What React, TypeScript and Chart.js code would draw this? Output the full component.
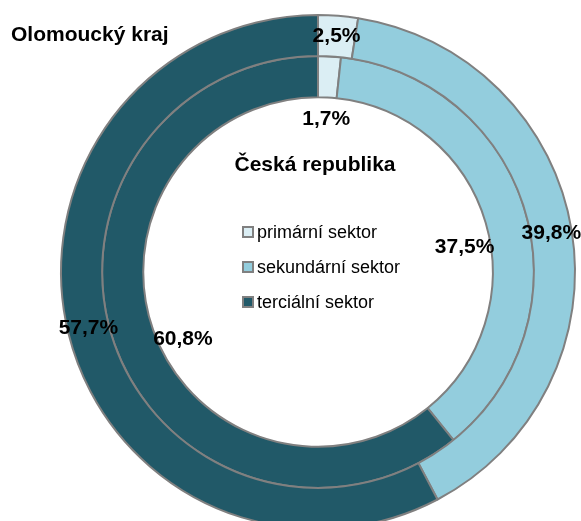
import React, { useEffect, useRef } from 'react';
import { Chart, registerables } from 'chart.js';

Chart.register(...registerables);

const categories = ['primární sektor', 'sekundární sektor', 'terciální sektor'];
const olomouckyKraj = [2.5, 39.8, 57.7];
const ceskaRepublika = [1.7, 37.5, 60.8];
const seriesNames = ['Olomoucký kraj', 'Česká republika'];
const sectorColors = ['#DBEEF4', '#93CDDD', '#215968'];

const FONT = '"Liberation Sans", Arial, sans-serif';

const fmt = (v: number) => v.toFixed(1).replace('.', ',') + '%';

const labelPlugin = {
  id: 'ringLabels',
  afterDatasetsDraw(chart: any, _args: any, opts: any) {
    const ctx = chart.ctx as CanvasRenderingContext2D;
    const nudges = opts.nudges || [];
    ctx.save();
    ctx.fillStyle = '#000';
    ctx.textAlign = 'center';
    ctx.textBaseline = 'middle';
    ctx.font = `bold 21px ${FONT}`;
    chart.data.datasets.forEach((ds: any, di: number) => {
      const meta = chart.getDatasetMeta(di);
      meta.data.forEach((arc: any, i: number) => {
        const p = arc.getProps(['x', 'y', 'startAngle', 'endAngle', 'innerRadius', 'outerRadius'], true);
        const mid = (p.startAngle + p.endAngle) / 2;
        const r = di === 0 ? (p.innerRadius + p.outerRadius) / 2 : p.innerRadius - 22;
        const n = (nudges[di] && nudges[di][i]) || { dx: 0, dy: 0 };
        const x = p.x + Math.cos(mid) * r + n.dx;
        const y = p.y + Math.sin(mid) * r + n.dy;
        ctx.fillText(fmt(ds.data[i]), x, y);
      });
    });

    // titles
    const m0 = chart.getDatasetMeta(0).data[0];
    const cx = m0.x;
    const cy = m0.y;
    ctx.textAlign = 'left';
    ctx.font = `bold 21px ${FONT}`;
    ctx.fillText(chart.data.datasets[0].label, 11, 35);
    ctx.textAlign = 'center';
    ctx.fillText(chart.data.datasets[1].label, cx - 3, cy - 107);

    // legend
    ctx.textAlign = 'left';
    ctx.font = `18px ${FONT}`;
    const lx = cx - 75;
    chart.data.labels.forEach((lab: string, i: number) => {
      const y = cy - 40 + i * 35;
      ctx.fillStyle = chart.data.datasets[0].backgroundColor[i];
      ctx.fillRect(lx, y - 5, 10, 10);
      ctx.strokeStyle = '#808080';
      ctx.lineWidth = 2;
      ctx.strokeRect(lx, y - 5, 10, 10);
      ctx.fillStyle = '#000';
      ctx.fillText(lab, lx + 14, y + 1);
    });
    ctx.restore();
  },
};

export default function App() {
  const ref = useRef<HTMLCanvasElement>(null);
  useEffect(() => {
    document.body.style.overflow = 'hidden';
    const chart = new Chart(ref.current!, {
      type: 'doughnut',
      data: {
        labels: categories,
        datasets: [
          {
            label: seriesNames[0],
            data: olomouckyKraj,
            backgroundColor: sectorColors,
            borderColor: '#808080',
            borderWidth: 2,
            clip: false,
          } as any,
          {
            label: seriesNames[1],
            data: ceskaRepublika,
            backgroundColor: sectorColors,
            borderColor: '#808080',
            borderWidth: 2,
            clip: false,
          } as any,
        ],
      },
      options: {
        responsive: false,
        animation: false,
        radius: 257,
        cutout: '68%',
        layout: { padding: { left: 55, right: 0, top: 0, bottom: 0 } },
        plugins: {
          legend: { display: false },
          tooltip: { enabled: false },
          ringLabels: {
            nudges: [
              [],
              [{ dx: 0, dy: 0 }, { dx: 0, dy: 18 }, { dx: 9, dy: 16 }],
            ],
          },
        } as any,
      } as any,
      plugins: [labelPlugin],
    });
    return () => chart.destroy();
  }, []);
  return (
    <div style={{ position: 'fixed', left: 0, top: 0, width: 581, height: 544 }}>
      <canvas ref={ref} width={581} height={544} style={{ display: 'block' }} />
    </div>
  );
}
